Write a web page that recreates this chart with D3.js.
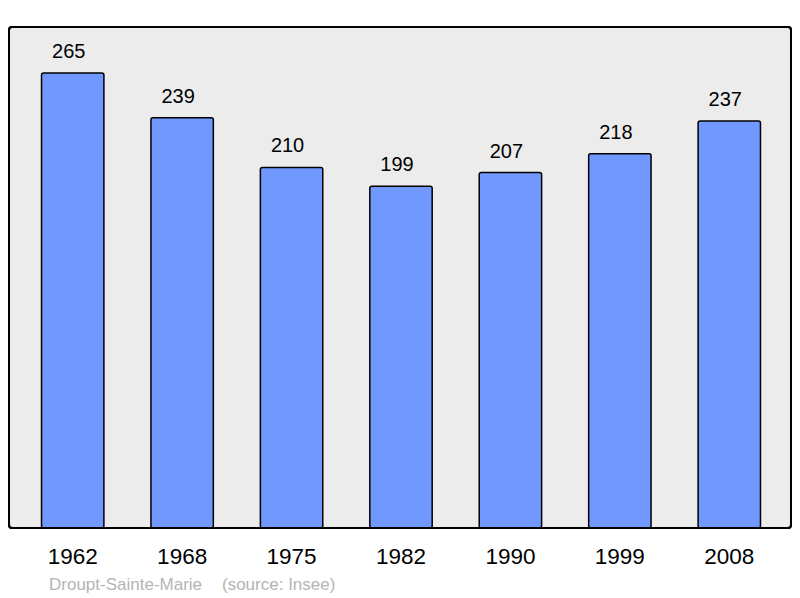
<!DOCTYPE html>
<html lang="en">
<head>
  <meta charset="UTF-8" />
  <title>Population Droupt-Sainte-Marie</title>
  <style>
    body { margin: 0; font-family: "Liberation Sans", Arial, sans-serif; }
    .bar { fill: #7098ff; stroke: #000; stroke-width: 1.5; }
    .axis path, .axis line { display: none; }
  </style>
</head>
<body>
  <div id="chart"></div>
  <script src="https://d3js.org/d3.v7.min.js"></script>
  <script>
    // Population data
    var years = ["1962", "1968", "1975", "1982", "1990", "1999", "2008"];
    var population = [265, 239, 210, 199, 207, 218, 237];

    var width = 800, height = 598;
    var panel = {left: 9, top: 27, right: 791, bottom: 528};

    var svg = d3.select("#chart")
      .append("svg")
      .attr("width", width)
      .attr("height", height);

    // Background panel
    svg.append("rect")
      .attr("x", panel.left)
      .attr("y", panel.top)
      .attr("width", panel.right - panel.left)
      .attr("height", panel.bottom - panel.top)
      .attr("rx", 3)
      .attr("fill", "#ececec")
      .attr("stroke", "#000")
      .attr("stroke-width", 2);

    var xScale = d3.scaleBand()
      .domain(years)
      .range([18, 784])
      .paddingInner(0.43)
      .paddingOuter(0.215);

    var yScale = d3.scaleLinear()
      .domain([0, 265])
      .range([panel.bottom, 73]);

    var data = years.map(function(y, i) { return {year: y, value: population[i]}; });

    svg.selectAll("rect.bar")
      .data(data)
      .enter()
      .append("rect")
      .attr("class", "bar")
      .attr("x", function(d) { return xScale(d.year); })
      .attr("y", function(d) { return yScale(d.value); })
      .attr("width", xScale.bandwidth())
      .attr("height", function(d) { return panel.bottom - yScale(d.value); })
      .attr("rx", 2);

    // Value labels (sit slightly left of bar centre, as in the original)
    svg.selectAll("text.value")
      .data(data)
      .enter()
      .append("text")
      .attr("class", "value")
      .attr("x", function(d) { return xScale(d.year) + xScale.bandwidth() / 2 - 4; })
      .attr("y", function(d) { return yScale(d.value) - 15; })
      .attr("text-anchor", "middle")
      .attr("font-size", "20px")
      .attr("fill", "#000")
      .text(function(d) { return d.value; });

    // Redraw panel outline on top
    svg.append("rect")
      .attr("x", panel.left)
      .attr("y", panel.top)
      .attr("width", panel.right - panel.left)
      .attr("height", panel.bottom - panel.top)
      .attr("rx", 3)
      .attr("fill", "none")
      .attr("stroke", "#000")
      .attr("stroke-width", 2);

    // Year axis
    svg.append("g")
      .attr("class", "axis")
      .attr("transform", "translate(0," + panel.bottom + ")")
      .call(d3.axisBottom(xScale).tickSize(0).tickPadding(20))
      .selectAll("text")
      .attr("font-size", "22.5px")
      .attr("font-family", "Liberation Sans, Arial, sans-serif")
      .attr("fill", "#000");

    // Footer
    svg.append("text")
      .attr("x", 49)
      .attr("y", 590)
      .attr("font-size", "17px")
      .attr("fill", "#b4b4b4")
      .text("Droupt-Sainte-Marie");
    svg.append("text")
      .attr("x", 222)
      .attr("y", 590)
      .attr("font-size", "17px")
      .attr("fill", "#b4b4b4")
      .text("(source: Insee)");
  </script>
</body>
</html>
